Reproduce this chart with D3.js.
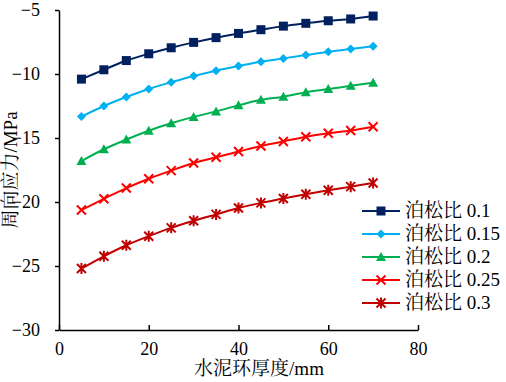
<!DOCTYPE html>
<html>
<head>
<meta charset="utf-8">
<script src="https://cdn.jsdelivr.net/npm/d3@7"></script>
<style>
  body { margin: 0; background: #fff; }
  #container { width: 506px; height: 382px; }
</style>
</head>
<body>
<div id="container"></div>
<script>
// cement sheath thickness (mm)
let thickness = [5, 10, 15, 20, 25, 30, 35, 40, 45, 50, 55, 60, 65, 70];

let seriesNames = ["泊松比 0.1", "泊松比 0.15", "泊松比 0.2", "泊松比 0.25", "泊松比 0.3"];

// hoop stress (MPa)
let nu010 = [-10.4, -9.67, -8.95, -8.42, -7.95, -7.53, -7.16, -6.83, -6.54, -6.26, -6.04, -5.84, -5.7, -5.47];
let nu015 = [-13.33, -12.5, -11.8, -11.17, -10.65, -10.16, -9.74, -9.38, -9.04, -8.78, -8.52, -8.26, -8.05, -7.84];
let nu020 = [-16.8, -15.88, -15.12, -14.43, -13.85, -13.35, -12.92, -12.45, -12.02, -11.77, -11.42, -11.18, -10.92, -10.68];
let nu025 = [-20.63, -19.75, -18.91, -18.18, -17.55, -16.95, -16.5, -16.06, -15.62, -15.27, -14.9, -14.63, -14.42, -14.12];
let nu030 = [-25.2, -24.24, -23.38, -22.67, -22.02, -21.47, -20.97, -20.47, -20.07, -19.73, -19.39, -19.08, -18.8, -18.52];

let xTicks = [0, 20, 40, 60, 80];
let yTicks = [-30, -25, -20, -15, -10, -5];

let allSeries = [nu010, nu015, nu020, nu025, nu030];
let colors = ["#002060", "#00B0F0", "#00B050", "#FF0000", "#C00000"];
let symbols = ["square", "diamond", "triangle", "cross", "star"];

let fontFam = "Liberation Serif, Noto Serif CJK SC, serif";

let svg = d3.select("#container").append("svg")
  .attr("width", 506)
  .attr("height", 382)
  .attr("font-family", fontFam);

let x = d3.scaleLinear().domain([0, 80]).range([59, 418]);
let y = d3.scaleLinear().domain([-30, -5]).range([330, 10]);

// draws one marker shape centered at 0,0
let drawMarker = (g, kind, color) => {
  if (kind === "square") {
    g.append("rect").attr("x", -4.5).attr("y", -4.5).attr("width", 9).attr("height", 9)
      .attr("fill", color);
  } else if (kind === "diamond") {
    g.append("path").attr("d", "M0,-4.5L4.5,0L0,4.5L-4.5,0Z").attr("fill", color);
  } else if (kind === "triangle") {
    g.append("path").attr("d", "M0,-5L5,4L-5,4Z").attr("fill", color);
  } else if (kind === "cross") {
    g.append("path").attr("d", "M-4.5,-4.5L4.5,4.5M-4.5,4.5L4.5,-4.5")
      .attr("stroke", color).attr("stroke-width", 2).attr("fill", "none");
  } else {
    g.append("path").attr("d", "M-4.5,-4.5L4.5,4.5M-4.5,4.5L4.5,-4.5M0,-5.5L0,5.5")
      .attr("stroke", color).attr("stroke-width", 2).attr("fill", "none");
  }
};

// y axis, ticks pointing out
let yAxis = svg.append("g")
  .attr("transform", `translate(${x(0)},0)`)
  .call(d3.axisLeft(y).tickValues(yTicks).tickSize(4).tickPadding(15).tickSizeOuter(0));

// x axis, ticks pointing in
let xAxis = svg.append("g")
  .attr("transform", `translate(0,${y(-30)})`)
  .call(d3.axisBottom(x).tickValues(xTicks).tickSize(-5).tickPadding(12).tickSizeOuter(0));

[xAxis, yAxis].forEach((a) => {
  a.attr("font-family", fontFam).attr("font-size", 18);
  a.select(".domain").attr("stroke", "#000").attr("stroke-width", 1.5);
  a.selectAll(".tick line").attr("stroke", "#000").attr("stroke-width", 1.5);
  a.selectAll(".tick text").attr("fill", "#000");
});

let line = d3.line()
  .x((d, i) => x(thickness[i]))
  .y((d) => y(d))
  .curve(d3.curveMonotoneX);

allSeries.forEach((vals, k) => {
  svg.append("path")
    .attr("d", line(vals))
    .attr("fill", "none")
    .attr("stroke", colors[k])
    .attr("stroke-width", 2);

  vals.forEach((v, i) => {
    let g = svg.append("g").attr("transform", `translate(${x(thickness[i])},${y(v)})`);
    drawMarker(g, symbols[k], colors[k]);
  });
});

// legend
let legend = svg.append("g").attr("transform", "translate(362,211)");
seriesNames.forEach((name, k) => {
  let row = legend.append("g").attr("transform", `translate(0,${k * 23})`);
  row.append("line")
    .attr("x1", 0).attr("x2", 38)
    .attr("stroke", colors[k]).attr("stroke-width", 2);
  let m = row.append("g").attr("transform", "translate(19,0)");
  drawMarker(m, symbols[k], colors[k]);
  row.append("text")
    .attr("x", 43)
    .attr("y", 6)
    .attr("fill", "#000")
    .attr("font-family", fontFam)
    .attr("font-size", 19)
    .text(name);
});

// axis titles
svg.append("text")
  .attr("x", 259)
  .attr("y", 375)
  .attr("text-anchor", "middle")
  .attr("fill", "#000")
  .attr("font-family", fontFam)
  .attr("font-size", 19)
  .text("水泥环厚度/mm");

svg.append("text")
  .attr("transform", "translate(17,170) rotate(-90)")
  .attr("text-anchor", "middle")
  .attr("fill", "#000")
  .attr("font-family", fontFam)
  .attr("font-size", 19)
  .text("周向应力/MPa");
</script>
</body>
</html>
